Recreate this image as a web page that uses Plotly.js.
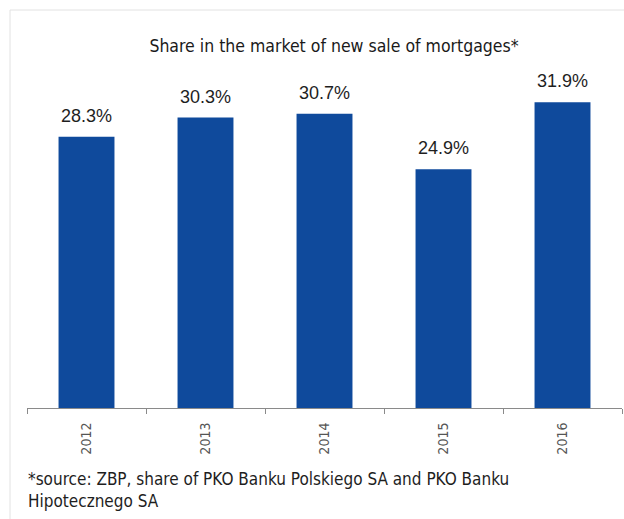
<!DOCTYPE html>
<html>
<head>
<meta charset="utf-8">
<script src="https://cdn.plot.ly/plotly-3.0.1.min.js"></script>
<style>
html,body{margin:0;padding:0;background:#fff;}
#chart{width:624px;height:519px;}
</style>
</head>
<body>
<div id="chart"></div>
<script>
const years = ["2012", "2013", "2014", "2015", "2016"];
const shares = [28.3, 30.3, 30.7, 24.9, 31.9];
const labels = ["28.3%", "30.3%", "30.7%", "24.9%", "31.9%"];
const chartTitle = "Share in the market of new sale of mortgages*";
const sourceNote = "*source: ZBP, share of PKO Banku Polskiego SA and PKO Banku<br>Hipotecznego SA";

const W = 624, H = 519;
const mL = 27, mR = 2, mT = 60, mB = 111;
const pw = W - mL - mR, ph = H - mT - mB;
const px = x => (x - mL) / pw;
const py = y => (H - mB - y) / ph;

const trace = {
  type: "bar",
  x: years,
  y: shares,
  marker: {color: "#0f4a9c", line: {width: 0}},
  hoverinfo: "skip"
};

// category axis positions are the indices of the categories
const valueLabels = years.map((yr, i) => ({
  x: i, y: shares[i],
  xref: "x", yref: "y",
  text: labels[i],
  showarrow: false,
  xanchor: "center", yanchor: "bottom",
  yshift: 9,
  font: {family: "Liberation Sans, Arial, sans-serif", size: 18, color: "#1e1e1e"}
}));

const layout = {
  width: W, height: H,
  margin: {l: mL, r: mR, t: mT, b: mB, pad: 0},
  paper_bgcolor: "#ffffff",
  plot_bgcolor: "#ffffff",
  bargap: 0.53,
  showlegend: false,
  title: {
    text: chartTitle,
    font: {family: "DejaVu Sans Condensed, Noto Sans, sans-serif", size: 17.5, color: "#1a1a1a"},
    x: 334 / W, xanchor: "center",
    y: 1 - 46 / H, yref: "container", yanchor: "middle"
  },
  xaxis: {
    type: "category",
    categoryorder: "array",
    categoryarray: years,
    range: [-0.5, years.length - 0.5],
    tickson: "boundaries",
    ticks: "outside",
    ticklen: 5,
    tickcolor: "#8a8a8a",
    tickangle: -90,
    ticklabelstandoff: 8,
    tickfont: {family: "Liberation Sans Narrow, DejaVu Sans Condensed, sans-serif", size: 14, color: "#555555"},
    showline: true,
    linecolor: "#8a8a8a",
    linewidth: 1,
    showgrid: false,
    zeroline: false,
    fixedrange: true
  },
  yaxis: {
    range: [0, 36.3],
    visible: false,
    showgrid: false,
    zeroline: false,
    fixedrange: true
  },
  annotations: valueLabels.concat([{
    text: sourceNote,
    xref: "paper", yref: "paper",
    x: px(26), y: py(467),
    xanchor: "left", yanchor: "top",
    align: "left",
    showarrow: false,
    font: {family: "DejaVu Sans Condensed, Noto Sans, sans-serif", size: 17, color: "#1e1e1e"}
  }]),
  shapes: [
    {type: "line", xref: "paper", yref: "paper", x0: px(10), x1: px(10), y0: py(10), y1: py(519),
     line: {color: "#e2e2e2", width: 1}},
    {type: "line", xref: "paper", yref: "paper", x0: px(10), x1: px(624), y0: py(10), y1: py(10),
     line: {color: "#e2e2e2", width: 1}}
  ]
};

Plotly.newPlot("chart", [trace], layout, {displayModeBar: false, staticPlot: true});
</script>
</body>
</html>
